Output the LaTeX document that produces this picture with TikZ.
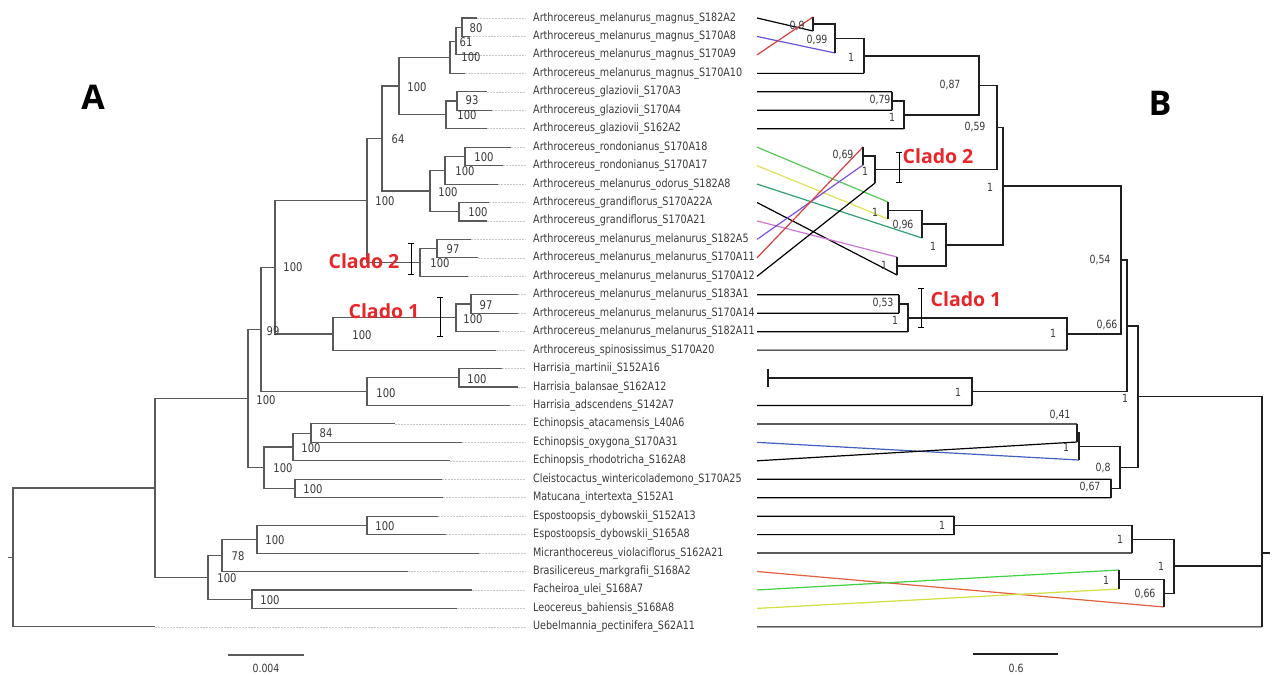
\documentclass[tikz,border=0pt]{standalone}
\usepackage{graphicx}
\usepackage{fontspec}
\setmainfont{DejaVu Sans}
\newfontfamily\cladofont{Open Sans}
\usetikzlibrary{arrows.meta}
\definecolor{treeA}{HTML}{5A5A5A}
\definecolor{labgray}{HTML}{3A3A3A}
\definecolor{dotgray}{HTML}{C8C8C8}
\definecolor{cladored}{HTML}{E8262A}
\definecolor{tgreen}{HTML}{55C855}
\definecolor{tyellow}{HTML}{E0E060}
\definecolor{tteal}{HTML}{30A070}
\definecolor{torchid}{HTML}{C878D0}
\definecolor{tpurple}{HTML}{7A50E0}
\definecolor{tred}{HTML}{D84040}
\definecolor{tblue}{HTML}{4060C0}
\definecolor{torange}{HTML}{E06040}
\definecolor{tgreen2}{HTML}{40D040}
\definecolor{tyellow2}{HTML}{D0E040}
\newcommand\tall[1]{\scalebox{1}[1.2]{#1}}
\begin{document}
\begin{tikzpicture}[x=1pt,y=-1pt,
  atree/.style={draw=treeA,line width=1.1pt},
  btree/.style={draw=black!88,line width=1.4pt},
  dots/.style={draw=dotgray,dash pattern=on 1.5pt off 1.5pt,line width=0.6pt},
  taxon/.style={anchor=west,inner sep=0pt,font=\fontsize{9.6}{10}\selectfont,text=labgray},
  supA/.style={inner sep=0pt,font=\fontsize{10}{11}\selectfont,text=labgray},
  supB/.style={inner sep=0pt,font=\fontsize{9.4}{10}\selectfont,text=labgray},
  clado/.style={inner sep=0pt,font=\cladofont\bfseries\fontsize{19.5}{21}\selectfont,text=cladored},
  panel/.style={inner sep=0pt,font=\cladofont\bfseries\fontsize{34}{36}\selectfont},
  tang/.style={line width=1.2pt},
  cbar/.style={line width=0.9pt,{Bar[width=6pt]}-{Bar[width=6pt]}}]
\fill[white] (0,0) rectangle (1273,675);
\useasboundingbox (0,0) rectangle (1273,675);

% ---------- taxa ----------
\foreach \i/\tx/\nm in {
 1/477/{Arthrocereus\_melanurus\_magnus\_S182A2},
 2/470/{Arthrocereus\_melanurus\_magnus\_S170A8},
 3/477/{Arthrocereus\_melanurus\_magnus\_S170A9},
 4/465/{Arthrocereus\_melanurus\_magnus\_S170A10},
 5/487/{Arthrocereus\_glaziovii\_S170A3},
 6/492/{Arthrocereus\_glaziovii\_S170A4},
 7/487/{Arthrocereus\_glaziovii\_S162A2},
 8/511/{Arthrocereus\_rondonianus\_S170A18},
 9/503/{Arthrocereus\_rondonianus\_S170A17},
 10/498/{Arthrocereus\_melanurus\_odorus\_S182A8},
 11/489/{Arthrocereus\_grandiflorus\_S170A22A},
 12/487/{Arthrocereus\_grandiflorus\_S170A21},
 13/471/{Arthrocereus\_melanurus\_melanurus\_S182A5},
 14/478/{Arthrocereus\_melanurus\_melanurus\_S170A11},
 15/468/{Arthrocereus\_melanurus\_melanurus\_S170A12},
 16/518/{Arthrocereus\_melanurus\_melanurus\_S183A1},
 17/518/{Arthrocereus\_melanurus\_melanurus\_S170A14},
 18/499/{Arthrocereus\_melanurus\_melanurus\_S182A11},
 19/496/{Arthrocereus\_spinosissimus\_S170A20},
 20/502/{Harrisia\_martinii\_S152A16},
 21/518/{Harrisia\_balansae\_S162A12},
 22/510/{Harrisia\_adscendens\_S142A7},
 23/395/{Echinopsis\_atacamensis\_L40A6},
 24/462/{Echinopsis\_oxygona\_S170A31},
 25/450/{Echinopsis\_rhodotricha\_S162A8},
 26/442/{Cleistocactus\_wintericolademono\_S170A25},
 27/443/{Matucana\_intertexta\_S152A1},
 28/438/{Espostoopsis\_dybowskii\_S152A13},
 29/446/{Espostoopsis\_dybowskii\_S165A8},
 30/479/{Micranthocereus\_violaciflorus\_S162A21},
 31/408/{Brasilicereus\_markgrafii\_S168A2},
 32/472/{Facheiroa\_ulei\_S168A7},
 33/457/{Leocereus\_bahiensis\_S168A8},
 34/155/{Uebelmannia\_pectinifera\_S62A11}}{
  \pgfmathsetmacro\yy{18+(\i-1)*18.45}
  \coordinate (a\i) at (\tx,\yy);
  \coordinate (s\i) at (757,\yy);
  \node[taxon] (l\i) at (533,\yy) {\tall{\nm}};
  \draw[dots] (a\i) -- ([xshift=-7pt]l\i.west);
}

% ---------- tree A nodes ----------
\coordinate (m462) at (462,27.2);
\coordinate (m456) at (456,41.1);
\coordinate (m450) at (450,57.2);
\coordinate (g457) at (457,101.0);
\coordinate (g446) at (446,114.9);
\coordinate (n399) at (399,86.0);
\coordinate (r465) at (465,156.4);
\coordinate (r445) at (445,170.2);
\coordinate (gr459) at (459,211.7);
\coordinate (r430) at (430,191.0);
\coordinate (n382) at (382,138.5);
\coordinate (c437) at (437,248.6);
\coordinate (c420) at (420,262.5);
\coordinate (n367) at (367,200.5);
\coordinate (d471) at (471,304.0);
\coordinate (d456) at (456,317.8);
\coordinate (d333) at (333,334.0);
\coordinate (nb275) at (275,267.2);
\coordinate (h459) at (459,377.8);
\coordinate (h367) at (367,391.6);
\coordinate (na261) at (261,329.4);
\coordinate (e311) at (311,433.1);
\coordinate (e293) at (293,447.0);
\coordinate (cm295) at (295,488.5);
\coordinate (e264) at (264,467.7);
\coordinate (n248) at (248,398.6);
\coordinate (es367) at (367,525.4);
\coordinate (b257) at (257,539.2);
\coordinate (b222) at (222,555.4);
\coordinate (fl252) at (252,599.2);
\coordinate (b208) at (208,577.3);
\coordinate (n155) at (155,488.0);
\coordinate (rootA) at (13,557.4);
\coordinate (rootAt) at (8,557.4);

\foreach \p/\c in {m462/a1,m462/a2,m456/m462,m456/a3,m450/m456,m450/a4,
  g457/a5,g457/a6,g446/g457,g446/a7,n399/m450,n399/g446,
  r465/a8,r465/a9,r445/r465,r445/a10,gr459/a11,gr459/a12,r430/r445,r430/gr459,
  n382/n399,n382/r430,c437/a13,c437/a14,c420/c437,c420/a15,n367/n382,n367/c420,
  d471/a16,d471/a17,d456/d471,d456/a18,d333/d456,d333/a19,nb275/n367,nb275/d333,
  h459/a20,h459/a21,h367/h459,h367/a22,na261/nb275,na261/h367,
  e311/a23,e311/a24,e293/e311,e293/a25,cm295/a26,cm295/a27,e264/e293,e264/cm295,
  n248/na261,n248/e264,es367/a28,es367/a29,b257/es367,b257/a30,b222/b257,b222/a31,
  fl252/a32,fl252/a33,b208/b222,b208/fl252,n155/n248,n155/b208,rootA/n155,rootA/a34}
  {\draw[atree] (\p) |- (\c);}
\draw[atree] (rootAt) -- (rootA);

% support values A
\foreach \x/\y/\t in {476/28/80,466/42/61,471/57/100,472/100/93,467/115/100,417/87/100,
  398/139/64,484/157/100,465/171/100,478/212/100,448/192/100,385/201/100,453/249/97,
  440/263/100,293/267/100,273/331/99,486/305/97,473/319/100,362/335/100,477/379/100,
  386/393/100,266/400/100,326/433/84,311/448/100,283/468/100,313/489/100,385/526/100,
  275/540/100,238/556/78,227/578/100,270/600/100}
  {\node[supA] at (\x,\y) {\tall{\t}};}

% ---------- tree B tips ----------
\coordinate (bt1) at (813,31);
\coordinate (bt2) at (835,53);
\coordinate (bt3) at (813,17);
\coordinate (bt4) at (864,73.35);
\coordinate (bt5) at (892,91.8);
\coordinate (bt6) at (892,110.25);
\coordinate (bt7) at (904,128.7);
\coordinate (bt8) at (888,202);
\coordinate (bt9) at (888,219);
\coordinate (bt10) at (922,238);
\coordinate (bt11) at (897,275);
\coordinate (bt12) at (897,257);
\coordinate (bt13) at (863,165);
\coordinate (bt14) at (863,147);
\coordinate (bt15) at (875,183);
\coordinate (bt16) at (899,294.75);
\coordinate (bt17) at (899,313.2);
\coordinate (bt18) at (908,331.65);
\coordinate (bt19) at (1067,350.1);
\coordinate (bt20) at (768,368.55);
\coordinate (bt21) at (768,387);
\coordinate (bt2021) at (768,377.8);
\coordinate (bt22) at (972,405.45);
\coordinate (bt23) at (1077,423.9);
\coordinate (bt24) at (1079,460);
\coordinate (bt25) at (1077,442);
\coordinate (bt26) at (1111,479.25);
\coordinate (bt27) at (1111,497.7);
\coordinate (bt28) at (954,516.15);
\coordinate (bt29) at (954,534.6);
\coordinate (bt30) at (1132,553.05);
\coordinate (bt31) at (1164,607);
\coordinate (bt32) at (1119,570);
\coordinate (bt33) at (1119,589);
\coordinate (bt34) at (1262,626.85);

% tanglegram connectors
\foreach \i/\c in {1/black,2/tpurple!70!tblue,3/tred,4/black,5/black,6/black,7/black,
  8/tgreen,9/tyellow,10/tteal,11/black,12/torchid,13/tpurple,14/tred,15/black,
  16/black,17/black,18/black,19/black,22/black,23/black,24/tblue,25/black,
  26/black,27/black,28/black,29/black,30/black,31/torange,32/tgreen2,33/tyellow2,34/black}
  {\draw[tang,draw=\c] (s\i) -- (bt\i);}
\draw[btree] (bt20) -- (bt21);

% tree B nodes
\coordinate (b813) at (813,24);
\coordinate (b835) at (835,38.5);
\coordinate (b864) at (864,55.9);
\coordinate (b892) at (892,101);
\coordinate (b904) at (904,114.9);
\coordinate (b979) at (979,85.4);
\coordinate (b863) at (863,156);
\coordinate (b875) at (875,169.5);
\coordinate (b997) at (997,127.5);
\coordinate (b888) at (888,210.5);
\coordinate (b922) at (922,224);
\coordinate (b897) at (897,266);
\coordinate (b946) at (946,245);
\coordinate (b1003) at (1003,186);
\coordinate (b899) at (899,304);
\coordinate (b908) at (908,317.8);
\coordinate (b1067) at (1067,334);
\coordinate (b1121) at (1121,260);
\coordinate (b972) at (972,391.6);
\coordinate (b1127) at (1127,325.8);
\coordinate (b1077) at (1077,433);
\coordinate (b1079) at (1079,446.5);
\coordinate (b1111) at (1111,488.5);
\coordinate (b1120) at (1120,467.5);
\coordinate (b1138) at (1138,396.7);
\coordinate (b954) at (954,525.4);
\coordinate (b1132) at (1132,539.2);
\coordinate (b1119) at (1119,579.5);
\coordinate (b1164) at (1164,593.3);
\coordinate (b1174) at (1174,566);
\coordinate (rootB) at (1262,553);
\coordinate (rootBt) at (1270,553);

\foreach \p/\c in {b813/bt1,b813/bt3,b835/b813,b835/bt2,b864/b835,b864/bt4,
  b892/bt5,b892/bt6,b904/b892,b904/bt7,b979/b864,b979/b904,
  b863/bt14,b863/bt13,b875/b863,b875/bt15,b997/b979,b997/b875,
  b888/bt8,b888/bt9,b922/b888,b922/bt10,b897/bt12,b897/bt11,b946/b922,b946/b897,
  b1003/b997,b1003/b946,b899/bt16,b899/bt17,b908/b899,b908/bt18,b1067/b908,b1067/bt19,
  b1121/b1003,b1121/b1067,b972/bt2021,b972/bt22,b1127/b1121,b1127/b972,
  b1077/bt23,b1077/bt25,b1079/b1077,b1079/bt24,b1111/bt26,b1111/bt27,
  b1120/b1079,b1120/b1111,b1138/b1127,b1138/b1120,
  b954/bt28,b954/bt29,b1132/b954,b1132/bt30,b1119/bt32,b1119/bt33,
  b1164/b1119,b1164/bt31,b1174/b1132,b1174/b1164,
  rootB/b1138,rootB/b1174,rootB/bt34}
  {\draw[btree] (\p) |- (\c);}
\draw[btree] (rootB) -- (rootBt);

% support values B
\foreach \x/\y/\t in {797/26/{0,9},817/40/{0,99},851/57/1,880/100/{0,79},892/117/1,
  950/85/{0,87},975/127/{0,59},990/187/1,843/155/{0,69},865/171/1,875/212/1,903/225/{0,96},
  884/265/1,933/246/1,883/303/{0,53},895/320/1,1053/333/1,1100/260/{0,54},1107/325/{0,66},
  958/392/1,1125/398/1,1060/415/{0,41},1066/447/1,1090/487/{0,67},1103/468/{0,8},
  942/525/1,1120/539/1,1106/580/1,1145/594/{0,66},1161/566/1}
  {\node[supB] at (\x,\y) {\tall{\t}};}

% ---------- clade marks ----------
\coordinate (ca2t) at (411,243); \coordinate (ca2b) at (411,275);
\coordinate (ca1t) at (440,297); \coordinate (ca1b) at (440,337);
\coordinate (cb2t) at (899,152); \coordinate (cb2b) at (899,183);
\coordinate (cb1t) at (921,288); \coordinate (cb1b) at (921,328);
\draw[cbar] (ca2t) -- (ca2b);
\draw[cbar] (ca1t) -- (ca1b);
\draw[cbar] (cb2t) -- (cb2b);
\draw[cbar] (cb1t) -- (cb1b);
\node[clado] (tA2) at (364,261) {Clado 2};
\node[clado] (tA1) at (384,311) {Clado 1};
\node[clado] (tB2) at (938,156) {Clado 2};
\node[clado] (tB1) at (966,299) {Clado 1};

% panel letters
\node[panel] (pA) at (93,97) {A};
\node[panel] (pB) at (1160,103) {B};

% scale bars
\coordinate (sa1) at (228,655); \coordinate (sa2) at (304,655);
\coordinate (sb1) at (973,654); \coordinate (sb2) at (1058,654);
\draw[atree] (sa1) -- (sa2);
\draw[btree] (sb1) -- (sb2);
\node[supB] (sat) at (266,668) {\tall{0.004}};
\node[supB] (sbt) at (1016,668) {\tall{0.6}};
\end{tikzpicture}
\end{document}
